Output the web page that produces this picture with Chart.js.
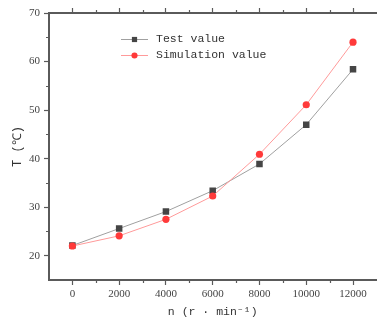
<!DOCTYPE html>
<html>
<head>
<meta charset="utf-8">
<script src="https://cdn.jsdelivr.net/npm/chart.js@4/dist/chart.umd.min.js"></script>
<style>
html,body{margin:0;padding:0;background:#fff;overflow:hidden;}
#wrap{width:381px;height:327px;}
</style>
</head>
<body>
<div id="wrap"><canvas id="c" width="381" height="327"></canvas></div>
<script>
const speeds = [0, 2000, 4000, 6000, 8000, 10000, 12000];
const testValues = [22.1, 25.6, 29.1, 33.4, 38.9, 47.0, 58.4];
const simValues = [22.0, 24.1, 27.5, 32.3, 40.9, 51.1, 64.0];
const xTicks = [0, 2000, 4000, 6000, 8000, 10000, 12000];
const xMinorTicks = [1000, 3000, 5000, 7000, 9000, 11000];
const yTicks = [20, 30, 40, 50, 60, 70];
const yMinorTicks = [25, 35, 45, 55, 65];
const seriesNames = ['Test value', 'Simulation value'];

const axisColor = '#5a5a5a';
const textColor = '#444';
const monoFont = "'Liberation Mono', 'DejaVu Sans Mono', monospace";
const serifFont = "'Liberation Serif', 'DejaVu Serif', serif";

const minorTicksPlugin = {
  id: 'minorTicks',
  afterDraw(chart) {
    const ctx = chart.ctx;
    const x = chart.scales.x, xt = chart.scales.xTop, y = chart.scales.y;
    const ca = chart.chartArea;
    ctx.save();
    ctx.strokeStyle = axisColor;
    ctx.lineWidth = 1.2;
    ctx.beginPath();
    xMinorTicks.forEach(v => {
      const px = Math.round(x.getPixelForValue(v)) + 0.5;
      ctx.moveTo(px, ca.bottom); ctx.lineTo(px, ca.bottom + 3);
      const pt = Math.round(xt.getPixelForValue(v)) + 0.5;
      ctx.moveTo(pt, ca.top); ctx.lineTo(pt, ca.top - 3);
    });
    yMinorTicks.forEach(v => {
      const py = Math.round(y.getPixelForValue(v)) + 0.5;
      ctx.moveTo(ca.left, py); ctx.lineTo(ca.left - 3, py);
    });
    ctx.stroke();
    ctx.restore();
  }
};

const legendPlugin = {
  id: 'lineLegend',
  afterDraw(chart) {
    const ctx = chart.ctx;
    const ca = chart.chartArea;
    const x0 = ca.left + 72, x1 = ca.left + 99, xm = (x0 + x1) / 2, xt = ca.left + 107;
    const rows = [ca.top + 26, ca.top + 42];
    const ds = [chart.data.datasets[0], chart.data.datasets[1]];
    ctx.save();
    ds.forEach((d, i) => {
      const yy = rows[i];
      ctx.strokeStyle = d.borderColor;
      ctx.lineWidth = 1;
      ctx.beginPath();
      ctx.moveTo(x0, yy + 0.5); ctx.lineTo(x1, yy + 0.5);
      ctx.stroke();
      ctx.fillStyle = d.pointBackgroundColor;
      ctx.beginPath();
      if (d.pointStyle === 'rect') {
        const s = d.pointRadius * Math.SQRT1_2 * 0.8;
        ctx.rect(xm - s, yy + 0.5 - s, 2 * s, 2 * s);
      } else {
        ctx.arc(xm, yy + 0.5, d.pointRadius * 0.85, 0, Math.PI * 2);
      }
      ctx.fill();
      ctx.fillStyle = '#333';
      ctx.font = "11.5px " + monoFont;
      ctx.textBaseline = 'middle';
      ctx.textAlign = 'left';
      ctx.fillText(d.label, xt, yy);
    });
    ctx.restore();
  }
};

new Chart(document.getElementById('c'), {
  type: 'line',
  data: {
    datasets: [
      {
        label: seriesNames[0],
        data: speeds.map((s, i) => ({x: s, y: testValues[i]})),
        borderColor: '#a0a0a0',
        borderWidth: 1,
        pointStyle: 'rect',
        pointRadius: 4.6,
        pointBackgroundColor: '#454545',
        pointBorderColor: '#454545',
        pointBorderWidth: 0,
        order: 1,
        tension: 0
      },
      {
        label: seriesNames[1],
        data: speeds.map((s, i) => ({x: s, y: simValues[i]})),
        borderColor: '#ff9a9a',
        borderWidth: 1,
        pointStyle: 'circle',
        pointRadius: 3.6,
        pointBackgroundColor: '#ff3a3a',
        pointBorderColor: '#ff3a3a',
        pointBorderWidth: 0,
        order: 0,
        tension: 0
      }
    ]
  },
  options: {
    responsive: false,
    animation: false,
    layout: {padding: {left: 0, right: 0, top: 0, bottom: 0}},
    plugins: {legend: {display: false}, tooltip: {enabled: false}},
    scales: {
      x: {
        type: 'linear',
        position: 'bottom',
        min: -1000,
        max: 13000,
        afterBuildTicks: s => { s.ticks = xTicks.map(v => ({value: v})); },
        afterFit: s => { s.height = 47; },
        ticks: {color: textColor, font: {family: serifFont, size: 11}, padding: 3, maxRotation: 0, autoSkip: false, callback: v => String(v)},
        grid: {drawOnChartArea: false, drawTicks: true, tickLength: 5, tickColor: axisColor, tickWidth: 1.2},
        border: {display: true, color: axisColor, width: 2},
        title: {display: true, text: 'n (r · min⁻¹)', color: '#333', font: {family: monoFont, size: 11.5}, padding: {top: 0, bottom: 8}}
      },
      xTop: {
        type: 'linear',
        position: 'top',
        min: -1000,
        max: 13000,
        afterBuildTicks: s => { s.ticks = xTicks.map(v => ({value: v})); },
        afterFit: s => { s.height = 13; },
        ticks: {display: false},
        grid: {drawOnChartArea: false, drawTicks: true, tickLength: 5, tickColor: axisColor, tickWidth: 1.2},
        border: {display: true, color: axisColor, width: 2}
      },
      y: {
        type: 'linear',
        position: 'left',
        min: 15,
        max: 70,
        afterBuildTicks: s => { s.ticks = yTicks.map(v => ({value: v})); },
        afterFit: s => { s.width = 49; },
        ticks: {color: textColor, font: {family: serifFont, size: 11}, padding: 4, callback: v => String(v)},
        grid: {drawOnChartArea: false, drawTicks: true, tickLength: 5, tickColor: axisColor, tickWidth: 1.2},
        border: {display: true, color: axisColor, width: 2},
        title: {display: true, text: 'T (℃)', color: '#333', font: {family: monoFont, size: 12}, padding: {top: 11, bottom: 0}}
      }
    }
  },
  plugins: [minorTicksPlugin, legendPlugin]
});
</script>
</body>
</html>
